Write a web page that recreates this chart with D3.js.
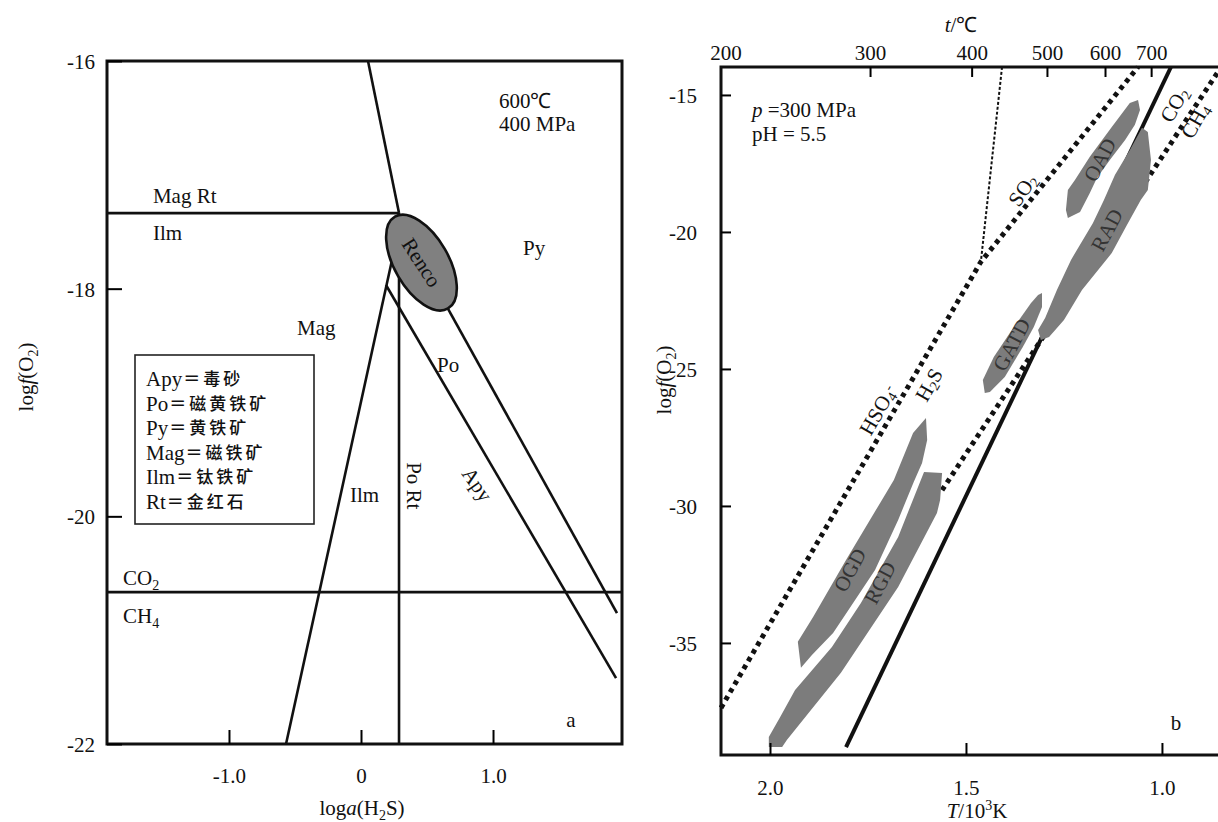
<!DOCTYPE html>
<html><head><meta charset="utf-8">
<script src="https://cdn.jsdelivr.net/npm/d3@7/dist/d3.min.js"></script>
<style>
body{margin:0;background:#fff}
svg{display:block}
text{font-family:"Liberation Serif","Times New Roman",serif;font-size:21px;fill:#111}
.cjk{font-family:"Noto Sans CJK SC","Noto Sans CJK TC",sans-serif}
</style></head><body>
<svg id="c" width="1218" height="822"></svg>
<script>
// ---------------- Panel a data ----------------
const aXTicks = [-1.0, 0, 1.0];
const aXTickLabels = ["-1.0", "0", "1.0"];
const aYTicks = [-16, -18, -20, -22];
const aYTickLabels = ["-16", "-18", "-20", "-22"];
const magRtIlmLine = [[-1.924, -17.336], [0.288, -17.336]];
const magPyLine = [[0.053, -16.0], [0.288, -17.336]];
const poRtLine = [[0.288, -17.336], [0.288, -22.0]];
const ilmLine = [[0.235, -17.749], [-0.568, -22.0]];
const poApyLine = [[0.189, -17.968], [1.932, -21.422]];
const pyPoLine = [[0.652, -18.162], [1.939, -20.851]];
const co2ch4LineA = [[-1.924, -20.666], [1.977, -20.666]];
const rencoCenter = [0.458, -17.771];
const legendItems = [["Apy", "毒砂"], ["Po", "磁黄铁矿"], ["Py", "黄铁矿"], ["Mag", "磁铁矿"], ["Ilm", "钛铁矿"], ["Rt", "金红石"]];

// ---------------- Panel b data ----------------
const bXTicks = [2.0, 1.5, 1.0];
const bXTickLabels = ["2.0", "1.5", "1.0"];
const bTopTicksC = [200, 300, 400, 500, 600, 700];
const bYTicks = [-15, -20, -25, -30, -35];
const bYTickLabels = ["-15", "-20", "-25", "-30", "-35"];
const thinDotLine = [[1.408, -13.98], [1.462, -21.09]];
const sulfurLine = [[2.125, -37.37], [1.462, -21.09], [1.061, -13.98]];
const co2ch4LineB = [[1.561, -29.42], [0.857, -14.16]];
const solidLine = [[1.806, -38.80], [0.977, -13.98]];
const OGD = [[1.602,-26.79],[1.599,-27.59],[1.612,-28.43],[1.633,-29.12],[1.673,-30.51],[1.732,-32.34],[1.796,-33.72],[1.839,-34.64],[1.893,-35.44],[1.921,-35.91],[1.929,-34.96],[1.890,-34.05],[1.806,-31.97],[1.719,-29.89],[1.684,-29.05],[1.635,-27.34]];
const RGD = [[1.607,-28.76],[1.561,-28.80],[1.566,-29.78],[1.574,-30.26],[1.673,-32.96],[1.819,-36.09],[1.957,-38.54],[1.969,-38.80],[2.003,-38.80],[2.003,-38.43],[1.974,-37.70],[1.936,-36.72],[1.842,-35.15],[1.768,-33.54],[1.673,-31.13]];
const GATD = [[1.452,-25.88],[1.457,-25.40],[1.429,-24.56],[1.383,-23.58],[1.334,-22.59],[1.316,-22.30],[1.306,-22.23],[1.306,-22.74],[1.327,-23.47],[1.355,-24.20],[1.401,-25.29],[1.439,-25.84]];
const RAD = [[1.051,-16.20],[1.036,-16.35],[1.028,-17.37],[1.036,-18.47],[1.054,-18.83],[1.089,-19.74],[1.128,-20.77],[1.204,-22.12],[1.250,-23.21],[1.288,-23.83],[1.309,-23.94],[1.316,-23.58],[1.298,-23.14],[1.268,-22.12],[1.232,-21.02],[1.176,-19.67],[1.148,-18.83],[1.120,-17.92],[1.082,-17.01],[1.061,-16.46]];
const OAD = [[1.061,-15.18],[1.056,-15.55],[1.069,-16.09],[1.094,-16.64],[1.133,-17.37],[1.166,-18.03],[1.184,-18.58],[1.209,-19.27],[1.240,-19.49],[1.245,-19.20],[1.240,-18.47],[1.222,-18.10],[1.184,-17.26],[1.128,-16.17],[1.082,-15.29]];
const shapesB = [OGD, RGD, GATD, RAD, OAD];

// ---------------- helpers ----------------
const svg = d3.select("#c");
function rich(t, parts) {
  parts.forEach(p => {
    const s = t.append("tspan").text(p.t);
    if (p.i) s.attr("font-style", "italic");
    if (p.sub) s.attr("font-size", 14).attr("dy", 5);
    if (p.sup) s.attr("font-size", 14).attr("dy", -8);
    if (p.back) s.attr("dy", p.back);
    if (p.cjk) s.attr("class", "cjk");
  });
  return t;
}
function label(g, x, y, parts, opt = {}) {
  const t = g.append("text")
    .attr("transform", `translate(${x},${y})` + (opt.rot ? ` rotate(${opt.rot})` : ""))
    .attr("text-anchor", opt.anchor || "start");
  if (opt.central) t.attr("dominant-baseline", "central");
  if (opt.fill) t.style("fill", opt.fill);
  return rich(t, parts);
}

// ================= Panel a =================
const xA = d3.scaleLinear().domain([-1.924, 1.977]).range([107, 622]);
const yA = d3.scaleLinear().domain([-16, -22]).range([61, 744]);
const lineA = d3.line().x(d => xA(d[0])).y(d => yA(d[1]));
const gA = svg.append("g");

[magRtIlmLine, magPyLine, poRtLine, ilmLine, poApyLine, pyPoLine, co2ch4LineA].forEach(l =>
  gA.append("path").attr("d", lineA(l)).attr("fill", "none").attr("stroke", "#111").attr("stroke-width", 2.6));

// Renco ellipse
gA.append("ellipse")
  .attr("transform", `translate(${xA(rencoCenter[0])},${yA(rencoCenter[1])}) rotate(60)`)
  .attr("rx", 53).attr("ry", 27)
  .attr("fill", "#808080").attr("stroke", "#111").attr("stroke-width", 2.6);
label(gA, xA(rencoCenter[0]), yA(rencoCenter[1]), [{t: "Renco"}], {rot: 57, anchor: "middle", central: true});

// frame
gA.append("rect").attr("x", xA.range()[0]).attr("y", yA.range()[0])
  .attr("width", xA.range()[1] - xA.range()[0]).attr("height", yA.range()[1] - yA.range()[0])
  .attr("fill", "none").attr("stroke", "#111").attr("stroke-width", 3);

// axes
const axA_x = gA.append("g").attr("transform", `translate(0,${yA.range()[1]})`)
  .call(d3.axisBottom(xA).tickValues(aXTicks).tickSize(-14).tickSizeOuter(0).tickPadding(24)
    .tickFormat((d, i) => aXTickLabels[i]));
const axA_y = gA.append("g").attr("transform", `translate(${xA.range()[0]},0)`)
  .call(d3.axisLeft(yA).tickValues(aYTicks).tickSize(-15).tickSizeOuter(0).tickPadding(12)
    .tickFormat((d, i) => aYTickLabels[i]));
[axA_x, axA_y].forEach(a => { a.select(".domain").remove(); a.selectAll("line").attr("stroke-width", 2); });
axA_y.selectAll("text").attr("dy", "0.35em");

// labels panel a
label(gA, xA(-1.576), yA(-17.248), [{t: "Mag Rt"}]);
label(gA, xA(-1.576), yA(-17.573), [{t: "Ilm"}]);
label(gA, xA(1.045), yA(-16.413), [{t: "600℃"}]);
label(gA, xA(1.045), yA(-16.615), [{t: "400 MPa"}]);
label(gA, xA(1.227), yA(-17.705), [{t: "Py"}]);
label(gA, xA(-0.485), yA(-18.408), [{t: "Mag"}]);
label(gA, xA(0.576), yA(-18.733), [{t: "Po"}]);
label(gA, xA(-0.083), yA(-19.875), [{t: "Ilm"}]);
label(gA, xA(0.345), yA(-19.524), [{t: "Po Rt"}], {rot: 90});
label(gA, xA(0.879), yA(-19.72), [{t: "Apy"}], {rot: 55, anchor: "middle", central: true});
label(gA, xA(-1.803), yA(-20.605), [{t: "CO"}, {t: "2", sub: true}]);
label(gA, xA(-1.803), yA(-20.939), [{t: "CH"}, {t: "4", sub: true}]);
label(gA, xA(1.59), yA(-21.85), [{t: "a"}], {anchor: "middle"});

// legend box
const lg = gA.append("g");
lg.append("rect").attr("x", 135).attr("y", 355).attr("width", 179).attr("height", 169)
  .attr("fill", "#fff").attr("stroke", "#222").attr("stroke-width", 1.6);
legendItems.forEach((d, i) => {
  const y = 386 + i * 24.6;
  const t1 = lg.append("text").attr("x", 146).attr("y", y).text(d[0]);
  const w = t1.node().getComputedTextLength();
  lg.append("text").attr("class", "cjk").attr("x", 146 + w + 1).attr("y", y - 1)
    .attr("font-size", 17).style("font-size", "17px").style("letter-spacing", "3px").style("font-weight", 500)
    .text("＝" + d[1]);
});

// axis titles a
label(gA, 33, 377, [{t: "log"}, {t: "f", i: true}, {t: "(O"}, {t: "2", sub: true}, {t: ")", back: -5}], {rot: -90, anchor: "middle"});
label(gA, 362, 815, [{t: "log"}, {t: "a", i: true}, {t: "(H"}, {t: "2", sub: true}, {t: "S)", back: -5}], {anchor: "middle"});

// ================= Panel b =================
const xB = d3.scaleLinear().domain([2.125, 0.857]).range([721, 1218]);
const yB = d3.scaleLinear().domain([-13.98, -39.09]).range([67, 755]);
const lineB = d3.line().x(d => xB(d[0])).y(d => yB(d[1]));
const gB = svg.append("g");

gB.append("path").attr("d", lineB(thinDotLine)).attr("fill", "none").attr("stroke", "#111")
  .attr("stroke-width", 2).attr("stroke-dasharray", "3 2");
[sulfurLine, co2ch4LineB].forEach(l =>
  gB.append("path").attr("d", lineB(l)).attr("fill", "none").attr("stroke", "#111")
    .attr("stroke-width", 5).attr("stroke-dasharray", "4.5 4.5"));
gB.append("path").attr("d", lineB(solidLine)).attr("fill", "none").attr("stroke", "#111").attr("stroke-width", 4);

shapesB.forEach(s =>
  gB.append("path").attr("d", lineB(s) + "Z").attr("fill", "#7c7c7c").attr("stroke", "none"));

// frame (open on right: chart cropped)
gB.append("path").attr("d", `M1220,${yB.range()[0]}H${xB.range()[0]}V${yB.range()[1]}H1220`)
  .attr("fill", "none").attr("stroke", "#111").attr("stroke-width", 3);

const axB_x = gB.append("g").attr("transform", `translate(0,${yB.range()[1]})`)
  .call(d3.axisBottom(xB).tickValues(bXTicks).tickSize(-12).tickSizeOuter(0).tickPadding(25)
    .tickFormat((d, i) => bXTickLabels[i]));
const axB_top = gB.append("g").attr("transform", `translate(0,${yB.range()[0]})`)
  .call(d3.axisTop(xB).tickValues(bTopTicksC.map(t => 1000 / (t + 273.15))).tickSize(-10).tickSizeOuter(0).tickPadding(7)
    .tickFormat((d, i) => String(bTopTicksC[i])));
const axB_y = gB.append("g").attr("transform", `translate(${xB.range()[0]},0)`)
  .call(d3.axisLeft(yB).tickValues(bYTicks).tickSize(-10).tickSizeOuter(0).tickPadding(24)
    .tickFormat((d, i) => bYTickLabels[i]));
[axB_x, axB_top, axB_y].forEach(a => { a.select(".domain").remove(); a.selectAll("line").attr("stroke-width", 2); });
axB_top.selectAll(".tick").filter((d, i) => i === 0).select("line").remove();
axB_y.selectAll("text").attr("dy", "0.35em");

// labels panel b
label(gB, xB(2.046), yB(-15.80), [{t: "p", i: true}, {t: " =300 MPa"}]);
label(gB, xB(2.046), yB(-16.68), [{t: "pH = 5.5"}]);
label(gB, xB(1.355), yB(-18.47), [{t: "SO"}, {t: "2", sub: true}], {rot: -55, anchor: "middle", central: true});
label(gB, xB(1.724), yB(-26.50), [{t: "HSO"}, {t: "4", sub: true}, {t: "-", sup: true}], {rot: -60, anchor: "middle", central: true});
label(gB, xB(1.594), yB(-25.58), [{t: "H"}, {t: "2", sub: true}, {t: "S", back: -5}], {rot: -60, anchor: "middle", central: true});
label(gB, xB(1.383), yB(-24.12), [{t: "GATD"}], {rot: -62, anchor: "middle", central: true, fill: "#333"});
label(gB, xB(1.140), yB(-19.93), [{t: "RAD"}], {rot: -62, anchor: "middle", central: true, fill: "#333"});
label(gB, xB(1.158), yB(-17.37), [{t: "OAD"}], {rot: -62, anchor: "middle", central: true, fill: "#333"});
label(gB, xB(1.796), yB(-32.34), [{t: "OGD"}], {rot: -62, anchor: "middle", central: true, fill: "#333"});
label(gB, xB(1.719), yB(-32.81), [{t: "RGD"}], {rot: -62, anchor: "middle", central: true, fill: "#333"});
label(gB, xB(0.968), yB(-15.36), [{t: "CO"}, {t: "2", sub: true}], {rot: -60, anchor: "middle", central: true});
label(gB, xB(0.915), yB(-15.95), [{t: "CH"}, {t: "4", sub: true}], {rot: -60, anchor: "middle", central: true});
label(gB, xB(0.964), yB(-38.18), [{t: "b"}], {anchor: "middle"});

// axis titles b
label(gB, 671, 380, [{t: "log"}, {t: "f", i: true}, {t: "(O"}, {t: "2", sub: true}, {t: ")", back: -5}], {rot: -90, anchor: "middle"});
label(gB, 977, 818, [{t: "T", i: true}, {t: "/10"}, {t: "3", sup: true}, {t: "K", back: 8}], {anchor: "middle"});
label(gB, 961, 32, [{t: "t", i: true}, {t: "/℃"}], {anchor: "middle"});
</script>
</body></html>
